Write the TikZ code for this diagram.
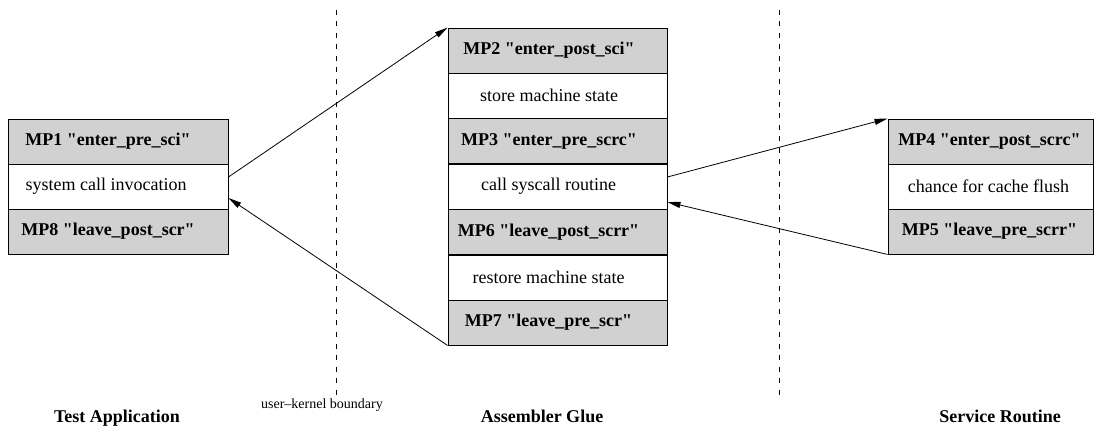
\documentclass[tikz,border=0pt]{standalone}
\usepackage{fontspec}
% keep " as a straight double quote
\setmainfont{Liberation Serif}[Ligatures=TeXOff]
\usetikzlibrary{arrows.meta}
\definecolor{mpgray}{RGB}{209,209,209}
\newcommand{\sq}{\char34\relax}
\tikzset{
  x=1pt, y=-1pt,
  cellbase/.style={draw, line width=0.9pt, minimum height=45pt, inner sep=0pt},
  mpcell/.style={cellbase, fill=mpgray},
  txtcell/.style={cellbase, fill=white},
  mplbl/.style={font=\fontsize{18}{21}\selectfont\bfseries, inner sep=0pt},
  txtlbl/.style={font=\fontsize{18}{21}\selectfont, inner sep=0pt},
  caption/.style={font=\fontsize{18}{21}\selectfont\bfseries, anchor=base},
  boundary/.style={dash pattern=on 5pt off 6.5pt, line width=0.8pt},
  flow/.style={line width=0.8pt, -{Triangle[length=13pt,width=6pt]}}
}
\begin{document}
\begin{tikzpicture}
\useasboundingbox (0,0) rectangle (1094,435);

% user/kernel and kernel/service boundaries
\coordinate (b1top) at (336,10);
\coordinate (b1bot) at (336,397);
\coordinate (b2top) at (779,10);
\coordinate (b2bot) at (779,397);
\draw[boundary] (b1top) -- (b1bot);
\draw[boundary] (b2top) -- (b2bot);

% Test application
\node[mpcell, minimum width=220pt, label={[mplbl, xshift=-10pt]center:MP1 \sq enter\_pre\_sci\sq}] (mp1) at (118,141.5) {};
\node[txtcell, minimum width=220pt, label={[txtlbl, xshift=-12pt]center:system call invocation}] (sci) at (118,186.5) {};
\node[mpcell, minimum width=220pt, label={[mplbl, xshift=-10pt]center:MP8 \sq leave\_post\_scr\sq}] (mp8) at (118,231.5) {};

% Assembler glue
\node[mpcell, minimum width=219pt, label={[mplbl, xshift=-8.5pt]center:MP2 \sq enter\_post\_sci\sq}] (mp2) at (557.5,50.5) {};
\node[txtcell, minimum width=219pt, label={[txtlbl, xshift=-8.5pt]center:store machine state}] (store) at (557.5,95.5) {};
\node[mpcell, minimum width=219pt, label={[mplbl, xshift=-8.5pt]center:MP3 \sq enter\_pre\_scrc\sq}] (mp3) at (557.5,141) {};
\node[txtcell, minimum width=219pt, label={[txtlbl, xshift=-9pt]center:call syscall routine}] (call) at (557.5,186.5) {};
\node[mpcell, minimum width=219pt, label={[mplbl, xshift=-9pt]center:MP6 \sq leave\_post\_scrr\sq}] (mp6) at (557.5,232) {};
\node[txtcell, minimum width=219pt, label={[txtlbl, xshift=-9pt]center:restore machine state}] (restore) at (557.5,277.5) {};
\node[mpcell, minimum width=219pt, label={[mplbl, xshift=-9pt]center:MP7 \sq leave\_pre\_scr\sq}] (mp7) at (557.5,322.5) {};

% Service routine
\node[mpcell, minimum width=205pt, label={[mplbl, xshift=-1pt]center:MP4 \sq enter\_post\_scrc\sq}] (mp4) at (990.5,141.5) {};
\node[txtcell, minimum width=205pt, label={[txtlbl, xshift=-2pt]center:chance for cache flush}] (flush) at (990.5,186.5) {};
\node[mpcell, minimum width=205pt, label={[mplbl, xshift=-1pt]center:MP5 \sq leave\_pre\_scrr\sq}] (mp5) at (990.5,231.5) {};

% control flow
\draw[flow] ([yshift=9.5pt]sci.east) -- (mp2.north west);
\draw[flow] (mp7.south west) -- ([yshift=-11.5pt]sci.east);
\draw[flow] ([yshift=9.5pt]call.east) -- (mp4.north west);
\draw[flow] (mp5.south west) -- ([yshift=-15.5pt]call.east);

% column captions
\node[caption] (capapp) at (117,422) {Test Application};
\node[font=\fontsize{14}{17}\selectfont, anchor=base] (capbound) at (322,408) {user\textendash kernel boundary};
\node[caption] (capglue) at (542,422) {Assembler Glue};
\node[caption] (capserv) at (1000,422) {Service Routine};
\end{tikzpicture}
\end{document}
